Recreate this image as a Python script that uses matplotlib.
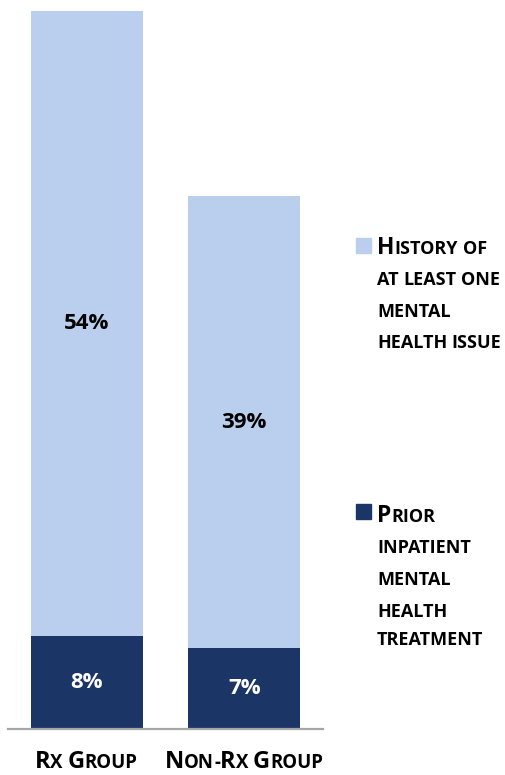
import matplotlib
matplotlib.use('Agg')
import matplotlib.pyplot as plt
from matplotlib.patches import Rectangle

# datos
groups = ['Rx Group', 'Non-Rx Group']
inpatient = [8, 7]
history = [54, 39]
legend_history = ['History of', 'at least one', 'mental', 'health issue']
legend_inpatient = ['Prior', 'inpatient', 'mental', 'health', 'treatment']

light = '#B9CFED'
dark = '#1B3666'
W, H = 506, 775
FONT = 'Open Sans'

fig = plt.figure(figsize=(W / 100, H / 100), dpi=100)
ax = fig.add_axes([8 / W, 1 - 729 / H, 315 / W, 718 / H])
x = list(range(len(groups)))
ax.bar(x, inpatient, width=0.71, color=dark)
ax.bar(x, history, bottom=inpatient, width=0.71, color=light)
ax.set_xlim(-0.5, 1.5)
ax.set_ylim(0, 62)
for s in ['left', 'top', 'right']:
    ax.spines[s].set_visible(False)
ax.spines['bottom'].set_color('#A6A6A6')
ax.spines['bottom'].set_linewidth(1.6)
ax.set_xticks([])
ax.set_yticks([])

# etiquetas de valores
for i in x:
    ax.text(i, inpatient[i] / 2, f'{inpatient[i]}%', ha='center', va='center',
            fontsize=16, fontweight='bold', color='white', family=FONT)
    ax.text(i, inpatient[i] + history[i] / 2, f'{history[i]}%', ha='center', va='center',
            fontsize=16, fontweight='bold', color='black', family=FONT)

renderer = fig.canvas.get_renderer()


def width_of(s, size):
    t = fig.text(0, 0, s, fontsize=size, fontweight='bold', family=FONT)
    w = t.get_window_extent(renderer).width
    t.remove()
    return w


def segments(text, big, small, caps_first):
    # versalitas: solo las mayusculas del texto van grandes
    segs = []
    for k, word in enumerate(text.split(' ')):
        if k > 0:
            segs.append((' ', small))
        parts = word.split('-')
        for j, p in enumerate(parts):
            if j > 0:
                segs.append(('-', small))
            if caps_first and p[:1].isupper():
                segs.append((p[0], big))
                if p[1:]:
                    segs.append((p[1:].upper(), small))
            else:
                segs.append((p.upper(), small))
    return segs


def smallcaps(text, xpx, ypx, big=16.5, small=13, ha='left', caps_first=True):
    segs = segments(text, big, small, caps_first)
    sp = width_of('n n', small) - width_of('nn', small)
    widths = [sp if s == ' ' else width_of(s, sz) for s, sz in segs]
    total = sum(widths)
    cur = xpx - total / 2 if ha == 'center' else xpx
    for (s, sz), w in zip(segs, widths):
        if s != ' ':
            fig.text(cur / W, 1 - ypx / H, s, fontsize=sz, fontweight='bold',
                     family=FONT, ha='left', va='baseline', color='black')
        cur += w


# etiquetas del eje x
centers = [86, 244]
for g, c in zip(groups, centers):
    smallcaps(g, c, 768, big=17, small=13.4, ha='center')

# leyenda
fig.add_artist(Rectangle((356 / W, 1 - 253 / H), 15 / W, 15 / H,
                         transform=fig.transFigure, color=light))
for k, (line, y) in enumerate(zip(legend_history, [254, 285, 317, 348])):
    smallcaps(line, 377, y, caps_first=(k == 0))

fig.add_artist(Rectangle((356 / W, 1 - 519 / H), 15 / W, 15 / H,
                         transform=fig.transFigure, color=dark))
for k, (line, y) in enumerate(zip(legend_inpatient, [522, 553, 585, 617, 645])):
    smallcaps(line, 377, y, caps_first=(k == 0))

fig.savefig('out.png', dpi=100)
